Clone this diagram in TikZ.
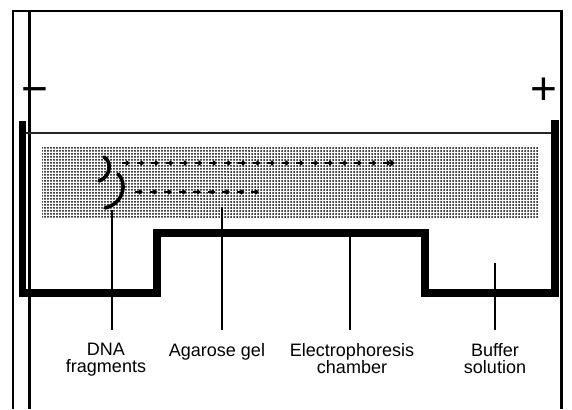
\documentclass[tikz,border=0pt]{standalone}
\usepackage{fontspec}
\setmainfont{Liberation Sans}
\usetikzlibrary{patterns.meta,arrows.meta}

\begin{document}
\begin{tikzpicture}[x=1pt,y=-1pt,
  frame/.style={line width=2.5pt},
  chamberwall/.style={line width=7.5pt, line join=miter},
  bufferline/.style={line width=1.4pt, black!85},
  gel/.style={pattern={Dots[distance=3pt,radius=1pt]}},
  band/.style={line width=3.6pt, line cap=round},
  migrate/.style={line width=1.6pt, -{Straight Barb[length=2.5pt,width=4pt]}},
  leader/.style={line width=1.3pt},
  caption/.style={font=\fontsize{18}{17}\selectfont, align=center,
    anchor=north, inner sep=0pt},
  sign/.style={font=\fontsize{46}{46}\selectfont, anchor=base, inner sep=0pt}]

\useasboundingbox (0,0) rectangle (572,409);
\fill[white] (0,0) rectangle (572,409);

% frame, open at the bottom, and the inner rule
\draw[frame] (13,409) -- (13,11) -- (561.5,11) -- (561.5,409);
\draw[frame] (29.5,11) -- (29.5,409);

% electrodes
\node[sign] (minus) at (34.5,105) {−};
\node[sign] (plus) at (544,104.5) {+};

% agarose gel slab
\fill[gel] (42,147) rectangle (539,218);

% surface of the buffer
\draw[bufferline] (26,133) -- (552,133);

% electrophoresis chamber
\draw[chamberwall] (22.5,121) -- (22.5,293) -- (157,293) -- (157,233)
  -- (425,233) -- (425,293) -- (555,293) -- (555,120);

% DNA bands in the wells
\draw[band] (104,157) .. controls (112,161) and (111,177) .. (99,181);
\draw[band] (118,174) .. controls (127,182) and (125,203) .. (105,208);

% migration paths
\foreach \x in {0,...,18}
  \draw[migrate] (122+14.5*\x,163) -- ++(8,0);
\draw[migrate, -{Straight Barb[length=4pt,width=6pt]}] (383,163) -- (395,163);
\foreach \x in {0,...,8}
  \draw[migrate] (135+14.5*\x,192) -- ++(8,0);

% leader start points
\coordinate (dnaTip) at (112,210);
\coordinate (gelTip) at (222,207);
\coordinate (chamberTip) at (350,237);
\coordinate (bufferTip) at (495,263);

% captions
\node[caption] (dnaLbl) at (106,343) {DNA\\fragments};
\node[caption] (gelLbl) at (217,343) {Agarose gel};
\node[caption] (chamberLbl) at (352,343) {Electrophoresis\\chamber};
\node[caption] (bufferLbl) at (495,343) {Buffer\\solution};

% leaders
\draw[leader, shorten >=13pt] (dnaTip) -- (dnaTip |- dnaLbl.north);
\draw[leader, shorten >=13pt] (gelTip) -- (gelTip |- gelLbl.north);
\draw[leader, shorten >=13pt] (chamberTip) -- (chamberTip |- chamberLbl.north);
\draw[leader, shorten >=13pt] (bufferTip) -- (bufferTip |- bufferLbl.north);
\end{tikzpicture}
\end{document}
